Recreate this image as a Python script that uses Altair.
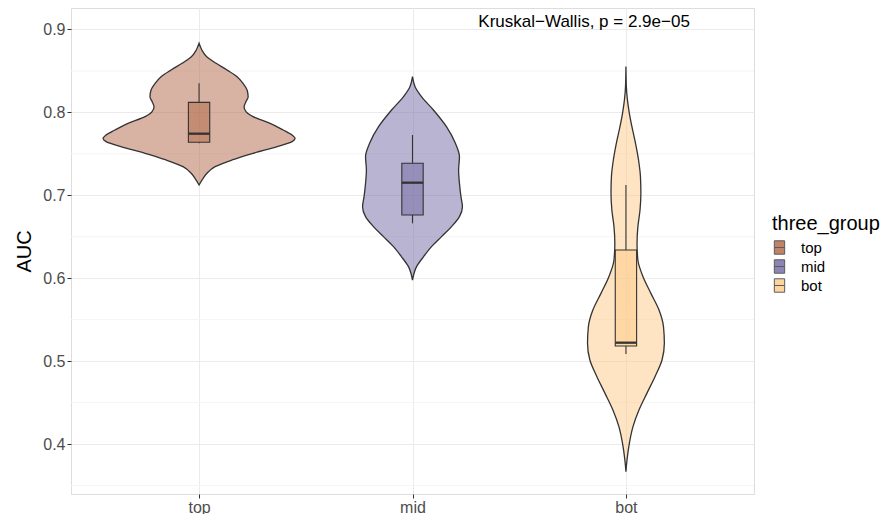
import altair as alt
import pandas as pd

# ---------------- data ----------------
groups = ["top", "mid", "bot"]
colors = ["#B16545", "#7169A3", "#FDC987"]

# violin outlines: AUC level and half width (in group-spacing units)
top_auc = [0.8833, 0.8753, 0.8672, 0.8592, 0.8512, 0.8431, 0.8351, 0.8270, 0.8190, 0.8130,
           0.8069, 0.8009, 0.7949, 0.7868, 0.7788, 0.7727, 0.7687, 0.7647, 0.7587, 0.7506,
           0.7426, 0.7345, 0.7265, 0.7205, 0.7124]
top_hw = [0.0, 0.013, 0.036, 0.080, 0.131, 0.178, 0.206, 0.225, 0.230, 0.220,
          0.211, 0.220, 0.253, 0.333, 0.394, 0.436, 0.450, 0.436, 0.366, 0.253,
          0.155, 0.075, 0.037, 0.019, 0.0]

mid_auc = [0.8431, 0.8310, 0.8190, 0.8029, 0.7828, 0.7627, 0.7466, 0.7305, 0.7144, 0.6983,
           0.6863, 0.6742, 0.6622, 0.6501, 0.6380, 0.6260, 0.6139, 0.5978]
mid_hw = [0.0, 0.012, 0.042, 0.098, 0.159, 0.201, 0.220, 0.216, 0.220, 0.227,
          0.234, 0.220, 0.183, 0.136, 0.089, 0.052, 0.019, 0.0]

bot_auc = [0.8552, 0.8310, 0.8150, 0.7989, 0.7828, 0.7627, 0.7426, 0.7225, 0.7024, 0.6823,
           0.6622, 0.6421, 0.6219, 0.6018, 0.5817, 0.5616, 0.5415, 0.5214, 0.5013, 0.4812,
           0.4611, 0.4410, 0.4209, 0.4008, 0.3807, 0.3666]
bot_hw = [0.0, 0.002, 0.007, 0.016, 0.028, 0.045, 0.059, 0.068, 0.070, 0.066,
          0.056, 0.052, 0.056, 0.080, 0.117, 0.155, 0.176, 0.180, 0.169, 0.136,
          0.098, 0.061, 0.033, 0.016, 0.005, 0.0]

# boxplot statistics
whisker_lo = [0.7627, 0.6662, 0.5086]
q1 = [0.7639, 0.6762, 0.5182]
median = [0.7743, 0.7152, 0.5222]
q3 = [0.8121, 0.7386, 0.6340]
whisker_hi = [0.8351, 0.7727, 0.7124]

minor_breaks = [0.35, 0.45, 0.55, 0.65, 0.75, 0.85]
major_breaks = [0.4, 0.5, 0.6, 0.7, 0.8, 0.9]
label_text = ["Kruskal\u2212Wallis, p = 2.9e\u221205"]
label_x = [2.804]
label_y = [0.9087]

# ---------------- tables ----------------
rows = []
for g, aucs, hws in zip(groups, [top_auc, mid_auc, bot_auc], [top_hw, mid_hw, bot_hw]):
    for a, h in zip(aucs, hws):
        rows.append({"group": g, "pos": groups.index(g) + 1, "auc": a, "hw": h})
vdf = pd.DataFrame(rows)

bdf = pd.DataFrame({
    "group": groups,
    "pos": [1, 2, 3],
    "wlo": whisker_lo, "q1": q1, "med": median, "q3": q3, "whi": whisker_hi,
})
mdf = pd.DataFrame({"y": minor_breaks})
tdf = pd.DataFrame({"text": label_text, "x": label_x, "y": label_y})

FONT = "Liberation Sans"
xscale = alt.Scale(domain=[0.4, 3.6], nice=False, zero=False)
yscale = alt.Scale(domain=[0.3397, 0.9259], nice=False, zero=False)
cscale = alt.Scale(domain=groups, range=colors)

xaxis = alt.Axis(values=[1, 2, 3], labelExpr="['', 'top', 'mid', 'bot'][datum.value]",
                 title=None, grid=True, gridColor="#EBEBEB", gridWidth=1,
                 domain=False, tickColor="#333333", tickSize=4, labelFontSize=16,
                 labelColor="#4D4D4D", labelFont=FONT, labelPadding=1)
yaxis = alt.Axis(values=major_breaks, format=".1f", title="AUC", grid=True,
                 gridColor="#EBEBEB", gridWidth=1, domain=False, tickColor="#333333",
                 tickSize=4, labelFontSize=16, labelColor="#4D4D4D", labelFont=FONT,
                 labelPadding=2, titleFontSize=20, titleFont=FONT, titleFontWeight="normal",
                 titleColor="#000000", titlePadding=8)

legend = alt.Legend(
    title="three_group", orient="none", legendX=701, legendY=206,
    titleFontSize=20, titleFont=FONT, titleFontWeight="normal", titleColor="#000000",
    titlePadding=6,
    labelFontSize=15, labelFont=FONT, labelColor="#000000", labelOffset=14,
    symbolType="M-0.77,-1H0.77V1H-0.77Z M-0.77,0H0.77",
    symbolSize=180, symbolStrokeColor="#333333",
    symbolStrokeWidth=1, symbolOpacity=0.8, rowPadding=0)

grid_minor = alt.Chart(mdf).mark_rule(color="#F4F4F4", strokeWidth=1).encode(
    y=alt.Y("y:Q", scale=yscale, axis=yaxis),
    x=alt.value(0), x2=alt.value(683),
)

violin = alt.Chart(vdf).transform_calculate(
    xl="datum.pos - datum.hw", xr="datum.pos + datum.hw"
).mark_area(orient="horizontal", interpolate="monotone", fillOpacity=0.5,
            stroke="#333333", strokeWidth=1.3).encode(
    y=alt.Y("auc:Q", scale=yscale, axis=yaxis),
    x=alt.X("xl:Q", scale=xscale, axis=xaxis),
    x2="xr:Q",
    color=alt.Color("group:N", scale=cscale, legend=legend),
)

box_base = alt.Chart(bdf).transform_calculate(
    bl="datum.pos - 0.05", br="datum.pos + 0.05"
)

whisk_up = box_base.mark_rule(color="#333333", strokeWidth=1.1).encode(
    x=alt.X("pos:Q", scale=xscale), y=alt.Y("q3:Q", scale=yscale), y2="whi:Q")
whisk_dn = box_base.mark_rule(color="#333333", strokeWidth=1.1).encode(
    x=alt.X("pos:Q", scale=xscale), y=alt.Y("wlo:Q", scale=yscale), y2="q1:Q")

box = box_base.mark_rect(fillOpacity=0.5, stroke="#333333", strokeWidth=1.1).encode(
    x=alt.X("bl:Q", scale=xscale), x2="br:Q",
    y=alt.Y("q1:Q", scale=yscale), y2="q3:Q",
    color=alt.Color("group:N", scale=cscale, legend=legend),
)

med = box_base.mark_rule(color="#333333", strokeWidth=2.3).encode(
    x=alt.X("bl:Q", scale=xscale), x2="br:Q", y=alt.Y("med:Q", scale=yscale))

note = alt.Chart(tdf).mark_text(font=FONT, fontSize=17, color="#000000",
                                align="center", baseline="middle").encode(
    x=alt.X("x:Q", scale=xscale), y=alt.Y("y:Q", scale=yscale), text="text:N")

chart = alt.layer(grid_minor, violin, whisk_up, whisk_dn, box, med, note).properties(
    width=683, height=486,
    autosize=alt.AutoSizeParams(type="none"),
    padding={"left": 63, "top": 0, "right": 130, "bottom": 20},
).configure_view(stroke="#333333", strokeWidth=1.2).configure(background="white")

chart.save("out.html", embed_options={"renderer": "svg", "actions": False})
